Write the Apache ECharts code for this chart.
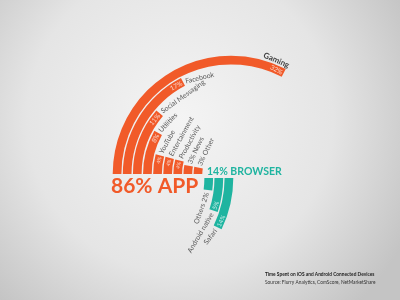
<!DOCTYPE html>
<html>
<head>
<meta charset="utf-8">
<script src="https://cdn.jsdelivr.net/npm/echarts@6/dist/echarts.min.js"></script>
<style>html,body{margin:0;padding:0;}#c{width:400px;height:300px;}</style>
</head>
<body>
<div id="c"></div>
<script>
// ---- data ----
const appCategories = ['Gaming','Facebook','Social Messaging','Utilities','YouTube','Entertainment','Productivity','News','Other'];
const appValues = [32, 17, 11, 8, 4, 4, 4, 3, 3];
const appValueLabels = ['32%','17%','11%','8%','4%','4%','4%','3%','3%'];
const appNameLabels = ['Gaming','Facebook','Social Messaging','Utilities','YouTube','Entertainment','Productivity','3% News','3% Other'];
const browserCategories = ['Safari','Android native','Others'];
const browserValues = [7, 5, 2];
const browserValueLabels = ['14%','5%','2%'];
const browserNameLabels = ['Safari','Android native','Others 2%'];
const appTotalLabel = '86% APP';
const browserTotalLabel = '14% BROWSER';
const noteTitle = 'Time Spent on iOS and Android Connected Devices';
const noteSource = 'Source: Flurry Analytics, ComScore, NetMarketShare';

// ---- style / layout ----
const ORANGE = '#f15a29', TEAL = '#1fb4a0';
const ANGLE_MAX = 98;
const K = 360 / ANGLE_MAX;
const R0 = 28, R1 = 119;
const band = (R1 - R0) / appCategories.length;
const FONT = 'Lato, "Open Sans", sans-serif';

const chart = echarts.init(document.getElementById('c'), null, {renderer: 'canvas'});

const appLabelData = [];
appCategories.forEach((c, i) => {
  const v = appValues[i];
  const rot = 90 - v * K;
  if (v >= 4) {
    appLabelData.push({value: [c, v], label: {show: true, formatter: appValueLabels[i], position: 'inside',
      align: 'right', verticalAlign: 'middle', rotate: rot, offset: [-1.5, 0.5],
      color: '#fff', fontSize: v >= 8 ? 6.5 : 5, fontFamily: FONT}});
  }
  if (i === 0) {
    appLabelData.push({value: [c, v], label: {show: true, formatter: appNameLabels[i], position: 'inside',
      align: 'right', verticalAlign: 'bottom', rotate: rot + 5, offset: [2, -5],
      color: '#111', fontSize: 8, fontWeight: 'bold', fontFamily: FONT}});
  } else {
    appLabelData.push({value: [c, v], label: {show: true, formatter: appNameLabels[i], position: 'inside',
      align: 'left', verticalAlign: 'middle', rotate: rot - 14, offset: [2.5, 0],
      color: '#333', fontSize: 7, fontFamily: FONT}});
  }
});

const browserLabelData = [];
browserCategories.forEach((c, i) => {
  const v = browserValues[i];
  const rot = 90 - v * K;
  if (v >= 5) {
    browserLabelData.push({value: [c, v], label: {show: true, formatter: browserValueLabels[i], position: 'inside',
      align: 'left', verticalAlign: 'middle', rotate: rot, offset: [1.5, 0.5],
      color: '#fff', fontSize: 6, fontFamily: FONT}});
  }
  browserLabelData.push({value: [c, v], label: {show: true, formatter: browserNameLabels[i], position: 'inside',
    align: 'right', verticalAlign: 'middle', rotate: rot - 12, offset: [-3, 0],
    color: '#333', fontSize: 7, fontFamily: FONT}});
});

const option = {
  animation: false,
  backgroundColor: {type: 'radial', x: 0.45, y: 0.4, r: 0.85,
    colorStops: [{offset: 0, color: '#f4f4f4'}, {offset: 0.6, color: '#e5e5e5'}, {offset: 1, color: '#c4c4c4'}]},
  polar: [
    {center: [231, 174], radius: [R0, R1]},
    {center: [115, 178], radius: [R1 - band * browserCategories.length, R1]}
  ],
  angleAxis: [
    {polarIndex: 0, type: 'value', min: 0, max: ANGLE_MAX, startAngle: 180, clockwise: true, show: false},
    {polarIndex: 1, type: 'value', min: 0, max: ANGLE_MAX, startAngle: 0, clockwise: true, show: false}
  ],
  radiusAxis: [
    {polarIndex: 0, type: 'category', data: appCategories, inverse: true, show: false},
    {polarIndex: 1, type: 'category', data: browserCategories, inverse: true, show: false}
  ],
  series: [
    {type: 'bar', coordinateSystem: 'polar', polarIndex: 0, data: appValues, barCategoryGap: '14%',
      itemStyle: {color: ORANGE}, silent: true},
    {type: 'bar', coordinateSystem: 'polar', polarIndex: 1, data: browserValues, barCategoryGap: '14%',
      itemStyle: {color: TEAL}, silent: true},
    {type: 'scatter', coordinateSystem: 'polar', polarIndex: 0, symbolSize: 0, data: appLabelData, silent: true,
      itemStyle: {color: 'rgba(0,0,0,0)'}},
    {type: 'scatter', coordinateSystem: 'polar', polarIndex: 1, symbolSize: 0, data: browserLabelData, silent: true,
      itemStyle: {color: 'rgba(0,0,0,0)'}}
  ],
  graphic: [
    {type: 'text', left: 111, top: 176, style: {text: appTotalLabel, font: 'bold 21px ' + FONT, fill: ORANGE}},
    {type: 'text', left: 207, top: 166, style: {text: browserTotalLabel, font: 'bold 10.5px ' + FONT, fill: TEAL}},
    {type: 'text', left: 265, top: 272, style: {text: noteTitle, font: 'bold 4.8px ' + FONT, fill: '#222'}},
    {type: 'text', left: 265, top: 280, style: {text: noteSource, font: '4.8px ' + FONT, fill: '#333'}}
  ]
};
chart.setOption(option);
</script>
</body>
</html>
